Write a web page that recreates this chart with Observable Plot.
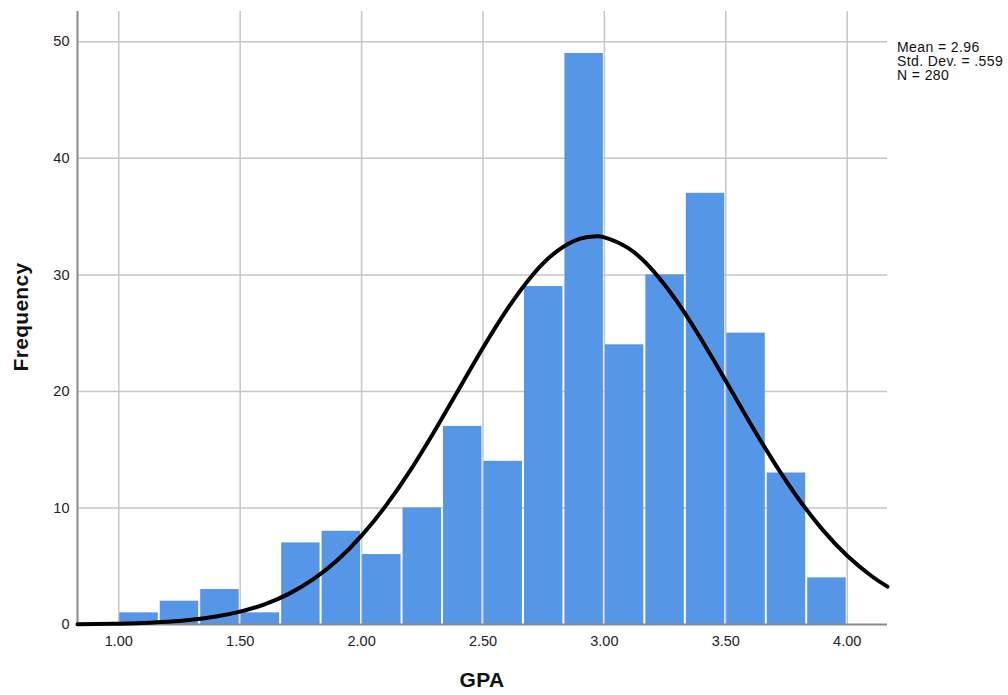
<!DOCTYPE html>
<html>
<head>
<meta charset="utf-8">
<script src="https://cdn.jsdelivr.net/npm/d3@7"></script>
<script src="https://cdn.jsdelivr.net/npm/@observablehq/plot@0.6"></script>
<style>
  html, body { margin: 0; padding: 0; background: #fff; }
  #wrap { position: relative; width: 1008px; height: 695px; font-family: "Liberation Sans", Arial, sans-serif; }
  #wrap svg { position: absolute; left: 0; top: 0; z-index: 0; }
  #stats { position: absolute; left: 897px; top: 40px; z-index: 2; font-size: 14px; letter-spacing: 0.4px; line-height: 14px; color: #111; white-space: pre; }
</style>
</head>
<body>
<div id="wrap"><div id="stats"></div></div>
<script>
// Histogram bin edges (GPA) and frequencies
const binEdges = [1.000, 1.1667, 1.3333, 1.500, 1.6667, 1.8333, 2.000, 2.1667, 2.3333, 2.500,
                  2.6667, 2.8333, 3.000, 3.1667, 3.3333, 3.500, 3.6667, 3.8333, 4.000];
const counts = [1, 2, 3, 1, 7, 8, 6, 10, 17, 14, 29, 49, 24, 30, 37, 25, 13, 4];

// Fitted normal curve
const curveX = [0.83, 0.9, 1.0, 1.1, 1.2, 1.3, 1.4, 1.5, 1.6, 1.7, 1.8, 1.9, 2.0, 2.1, 2.2, 2.3, 2.4, 2.5,
                2.6, 2.7, 2.8, 2.9, 2.96, 3.0, 3.1, 3.2, 3.3, 3.4, 3.5, 3.6, 3.7, 3.8, 3.9, 4.0, 4.1, 4.166];
const curveY = [0.02, 0.04, 0.07, 0.13, 0.23, 0.41, 0.68, 1.10, 1.73, 2.63, 3.87, 5.51, 7.62, 10.20, 13.21, 16.59, 20.16, 23.74,
                27.06, 29.89, 31.96, 33.11, 33.30, 33.22, 32.27, 30.37, 27.68, 24.43, 20.89, 17.29, 13.87, 10.77, 8.10, 5.90, 4.16, 3.25];

const xTicks = [1.0, 1.5, 2.0, 2.5, 3.0, 3.5, 4.0];
const yTicks = [0, 10, 20, 30, 40, 50];
const gridYTicks = [10, 20, 30, 40, 50];
const xDomain = [0.83, 4.166];
const yDomain = [0, 52.6];
const statsLines = ["Mean = 2.96", "Std. Dev. = .559", "N = 280"];
const xLabel = "GPA";
const yLabel = "Frequency";

const bars = counts.map((c, i) => ({x1: binEdges[i], x2: binEdges[i + 1], y: c}));
const curve = curveX.map((x, i) => ({x, y: curveY[i]}));

const chart = Plot.plot({
  width: 1008,
  height: 695,
  marginLeft: 77,
  marginRight: 121,
  marginTop: 11,
  marginBottom: 71,
  style: {fontFamily: "Liberation Sans, Arial, sans-serif", fontSize: "14.5px", color: "#222", background: "white"},
  x: {domain: xDomain},
  y: {domain: yDomain},
  marks: [
    Plot.gridX(xTicks, {stroke: "#c6c6c6", strokeOpacity: 1, strokeWidth: 1.5}),
    Plot.gridY(gridYTicks, {stroke: "#c6c6c6", strokeOpacity: 1, strokeWidth: 1.5}),
    Plot.rectY(bars, {x1: "x1", x2: "x2", y: "y", fill: "#5596e6", insetLeft: 1, insetRight: 1}),
    Plot.ruleX([xDomain[0]], {stroke: "#8a8a8a", strokeWidth: 2}),
    Plot.ruleY([0], {stroke: "#8a8a8a", strokeWidth: 2}),
    Plot.line(curve, {x: "x", y: "y", stroke: "black", strokeWidth: 4, curve: "natural"}),
    Plot.axisY(yTicks, {tickSize: 0, tickPadding: 8, label: null, fontSize: 14.5}),
    Plot.axisX(xTicks, {tickSize: 0, tickPadding: 11, label: null, fontSize: 14.5, tickFormat: d => d.toFixed(2)})
  ]
});

const wrap = document.getElementById("wrap");
wrap.insertBefore(chart, wrap.firstChild);

const svg = d3.select(chart);
svg.append("text")
  .attr("transform", "translate(28,317) rotate(-90)")
  .attr("text-anchor", "middle")
  .style("font-family", "Liberation Sans, Arial, sans-serif")
  .style("font-weight", "bold")
  .style("font-size", "21px")
  .style("letter-spacing", "0.3px")
  .attr("fill", "#111")
  .text(yLabel);
svg.append("text")
  .attr("x", 482).attr("y", 687)
  .attr("text-anchor", "middle")
  .style("font-family", "Liberation Sans, Arial, sans-serif")
  .style("font-weight", "bold")
  .style("font-size", "21px")
  .style("letter-spacing", "0.3px")
  .attr("fill", "#111")
  .text(xLabel);

document.getElementById("stats").textContent = statsLines.join("\n");
</script>
</body>
</html>
